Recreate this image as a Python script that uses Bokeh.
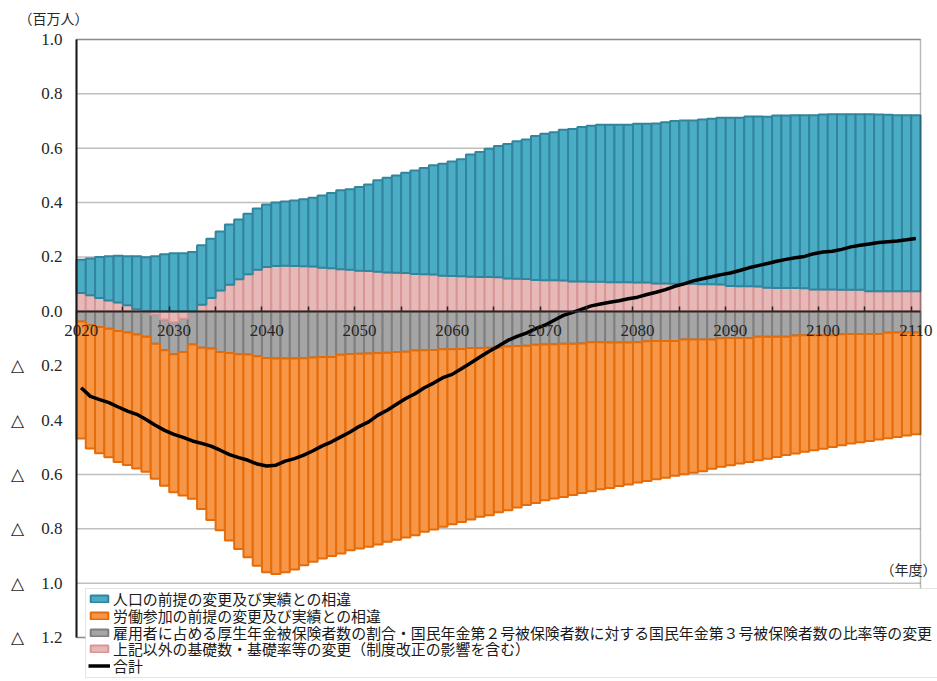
from bokeh.plotting import figure
from bokeh.models import (Range1d, LinearAxis, FixedTicker, Label, Legend,
                          LegendItem, ColumnDataSource, BoxAnnotation)
from bokeh.embed import file_html
from bokeh.resources import INLINE

years = list(range(2020, 2111))

# 人口の前提の変更及び実績との相違
population = [
    0.123, 0.135, 0.151, 0.163, 0.172, 0.181, 0.195, 0.199, 0.203, 0.210,
    0.214, 0.214, 0.218, 0.219, 0.218, 0.217, 0.221, 0.220, 0.223, 0.225,
    0.230, 0.233, 0.236, 0.241, 0.246, 0.253, 0.266, 0.277, 0.290, 0.296,
    0.308, 0.319, 0.336, 0.348, 0.358, 0.369, 0.381, 0.391, 0.402, 0.412,
    0.421, 0.430, 0.450, 0.460, 0.472, 0.483, 0.495, 0.506, 0.513, 0.530,
    0.539, 0.545, 0.555, 0.561, 0.568, 0.574, 0.577, 0.579, 0.579, 0.579,
    0.584, 0.584, 0.589, 0.594, 0.599, 0.601, 0.601, 0.606, 0.608, 0.613,
    0.619, 0.620, 0.625, 0.626, 0.629, 0.634, 0.634, 0.635, 0.636, 0.641,
    0.644, 0.645, 0.646, 0.646, 0.646, 0.651, 0.650, 0.649, 0.647, 0.647, 0.647,
]
# 労働参加の前提の変更及び実績との相違
labour = [
    -0.431, -0.454, -0.464, -0.473, -0.482, -0.487, -0.493, -0.496, -0.497, -0.499,
    -0.508, -0.528, -0.568, -0.593, -0.631, -0.655, -0.690, -0.716, -0.746, -0.771,
    -0.788, -0.792, -0.786, -0.776, -0.761, -0.751, -0.741, -0.732, -0.731, -0.722,
    -0.717, -0.711, -0.705, -0.696, -0.690, -0.683, -0.680, -0.668, -0.661, -0.653,
    -0.643, -0.636, -0.631, -0.621, -0.616, -0.606, -0.603, -0.594, -0.586, -0.582,
    -0.573, -0.568, -0.564, -0.557, -0.550, -0.548, -0.541, -0.535, -0.528, -0.522,
    -0.516, -0.514, -0.509, -0.503, -0.496, -0.495, -0.490, -0.484, -0.475, -0.473,
    -0.468, -0.462, -0.456, -0.454, -0.448, -0.442, -0.435, -0.434, -0.429, -0.423,
    -0.418, -0.411, -0.409, -0.403, -0.399, -0.394, -0.389, -0.388, -0.384, -0.379, -0.374,
]
# 雇用者に占める厚生年金被保険者数の割合・…の比率等の変更
employment = [
    -0.037, -0.051, -0.058, -0.064, -0.072, -0.078, -0.085, -0.090, -0.106, -0.113,
    -0.118, -0.123, -0.122, -0.134, -0.137, -0.150, -0.153, -0.158, -0.159, -0.165,
    -0.172, -0.174, -0.174, -0.174, -0.173, -0.170, -0.168, -0.168, -0.160, -0.157,
    -0.156, -0.155, -0.153, -0.152, -0.150, -0.149, -0.144, -0.143, -0.142, -0.140,
    -0.140, -0.139, -0.135, -0.135, -0.134, -0.133, -0.129, -0.128, -0.127, -0.123,
    -0.122, -0.121, -0.119, -0.119, -0.118, -0.114, -0.114, -0.115, -0.115, -0.115,
    -0.114, -0.110, -0.109, -0.109, -0.109, -0.104, -0.104, -0.104, -0.104, -0.099,
    -0.098, -0.098, -0.098, -0.094, -0.094, -0.094, -0.094, -0.089, -0.088, -0.088,
    -0.088, -0.088, -0.084, -0.083, -0.083, -0.083, -0.083, -0.079, -0.078, -0.078, -0.078,
]
# 上記以外の基礎数・基礎率等の変更（制度改正の影響を含む）
other = [
    0.067, 0.059, 0.049, 0.040, 0.032, 0.022, 0.008, -0.004, -0.013, -0.030,
    -0.040, -0.027, 0.000, 0.024, 0.049, 0.077, 0.098, 0.118, 0.136, 0.153,
    0.163, 0.167, 0.168, 0.167, 0.166, 0.165, 0.160, 0.158, 0.155, 0.153,
    0.149, 0.148, 0.146, 0.143, 0.142, 0.141, 0.137, 0.136, 0.135, 0.131,
    0.130, 0.129, 0.127, 0.126, 0.126, 0.125, 0.121, 0.120, 0.119, 0.115,
    0.114, 0.114, 0.113, 0.110, 0.110, 0.109, 0.109, 0.107, 0.107, 0.107,
    0.106, 0.106, 0.102, 0.102, 0.101, 0.101, 0.101, 0.100, 0.100, 0.099,
    0.093, 0.092, 0.092, 0.091, 0.087, 0.086, 0.086, 0.086, 0.085, 0.080,
    0.080, 0.080, 0.079, 0.079, 0.079, 0.074, 0.074, 0.074, 0.074, 0.074, 0.074,
]
# 合計
total = [
    -0.281, -0.313, -0.325, -0.336, -0.352, -0.367, -0.379, -0.398, -0.419, -0.438,
    -0.453, -0.464, -0.477, -0.486, -0.496, -0.511, -0.527, -0.538, -0.548, -0.562,
    -0.569, -0.566, -0.551, -0.542, -0.529, -0.513, -0.495, -0.480, -0.462, -0.444,
    -0.423, -0.407, -0.382, -0.364, -0.342, -0.321, -0.303, -0.281, -0.264, -0.244,
    -0.232, -0.211, -0.190, -0.168, -0.147, -0.128, -0.107, -0.092, -0.080, -0.064,
    -0.051, -0.033, -0.015, -0.004, 0.008, 0.020, 0.027, 0.033, 0.039, 0.046,
    0.052, 0.062, 0.070, 0.080, 0.092, 0.101, 0.112, 0.120, 0.127, 0.135,
    0.141, 0.150, 0.160, 0.168, 0.176, 0.184, 0.191, 0.197, 0.202, 0.212,
    0.218, 0.221, 0.228, 0.237, 0.243, 0.248, 0.253, 0.256, 0.259, 0.263, 0.268,
]

series_names = [
    "人口の前提の変更及び実績との相違",
    "労働参加の前提の変更及び実績との相違",
    "雇用者に占める厚生年金被保険者数の割合・国民年金第２号被保険者数に対する国民年金第３号被保険者数の比率等の変更",
    "上記以外の基礎数・基礎率等の変更（制度改正の影響を含む）",
    "合計",
]

y_ticks = [-1.2, -1.0, -0.8, -0.6, -0.4, -0.2, 0.0, 0.2, 0.4, 0.6, 0.8, 1.0]
y_tick_labels = ["△　1.2", "△　1.0", "△　0.8", "△　0.6", "△　0.4", "△　0.2",
                 "0.0", "0.2", "0.4", "0.6", "0.8", "1.0"]
x_label_years = [2020, 2030, 2040, 2050, 2060, 2070, 2080, 2090, 2100, 2110]
x_label_texts = [str(y) for y in x_label_years]
unit_text = "（百万人）"
year_text = "（年度）"

for arr in (population, labour, employment, other, total):
    if len(arr) != len(years):
        raise ValueError("length mismatch %d" % len(arr))

# stacking (positive: other then population; negative: other, employment, labour)
oth_top = [max(v, 0) for v in other]
oth_bot = [min(v, 0) for v in other]
pop_top = [a + b for a, b in zip(oth_top, population)]
emp_bot = [a + b for a, b in zip(oth_bot, employment)]
lab_bot = [a + b for a, b in zip(emp_bot, labour)]

src = ColumnDataSource(dict(
    year=years, oth_top=oth_top, oth_bot=oth_bot, pop_top=pop_top,
    emp_bot=emp_bot, lab_bot=lab_bot, total=total,
))

# ---- layout: the frame covers the whole canvas; the plot area sits inside
W, H = 937, 681
PX_L, PX_R, PX_T, PX_B = 76, 920, 39, 637
X0, X1 = years[0] - 0.5, years[-1] + 0.5
Y0, Y1 = y_ticks[0], y_ticks[-1]
xs = (X1 - X0) / (PX_R - PX_L)
ys = (Y1 - Y0) / (PX_B - PX_T)
x_start = X0 - PX_L * xs
y_end = Y1 + PX_T * ys

p = figure(width=W, height=H, output_backend="svg", toolbar_location=None,
           x_range=Range1d(x_start, x_start + W * xs),
           y_range=Range1d(y_end - H * ys, y_end),
           x_axis_location=None, y_axis_location=None, min_border=0)
p.title.visible = False
p.background_fill_color = "white"
p.border_fill_color = "white"
p.outline_line_color = None
p.xgrid.visible = False
p.ygrid.visible = False

TXT = "#262626"
SERIF = "Liberation Serif"

# horizontal grid lines, limited to the plot area
grid_vals = [t for t in y_ticks if t != 0.0]
p.segment(x0=[X0] * len(grid_vals), x1=[X1] * len(grid_vals), y0=grid_vals,
          y1=grid_vals, line_color="#BFBFBF", line_width=1.5, level="underlay")

r_emp = p.vbar(x="year", width=1.0, top="oth_bot", bottom="emp_bot", source=src,
               fill_color="#A5A5A5", line_color="#7F7F7F", line_width=2)
r_oth = p.vbar(x="year", width=1.0, top="oth_top", bottom="oth_bot", source=src,
               fill_color="#E6B9B8", line_color="#D99694", line_width=2)
r_pop = p.vbar(x="year", width=1.0, top="pop_top", bottom="oth_top", source=src,
               fill_color="#4BACC6", line_color="#31859C", line_width=2)
r_lab = p.vbar(x="year", width=1.0, top="emp_bot", bottom="lab_bot", source=src,
               fill_color="#F79646", line_color="#E46C0A", line_width=2)

r_tot = p.line(x="year", y="total", source=src, line_color="black",
               line_width=3.5, line_join="round")

# plot-area border
p.add_layout(BoxAnnotation(left=X0, right=X1, bottom=Y0, top=Y1,
                           fill_alpha=0, line_color="#1a1a1a", line_width=1.5))

# y axis at the left edge of the plot area
yaxis = LinearAxis(fixed_location=X0, bounds=(Y0, Y1),
                   ticker=FixedTicker(ticks=y_ticks),
                   major_label_overrides=dict(zip(y_ticks, y_tick_labels)),
                   major_tick_in=0, major_tick_out=0,
                   minor_tick_line_color=None,
                   axis_line_color="#1a1a1a", axis_line_width=2,
                   major_label_text_font=SERIF,
                   major_label_text_font_size="17px",
                   major_label_text_color=TXT,
                   major_label_standoff=14)
p.add_layout(yaxis, "left")

# x axis along the zero line: minor ticks at 5-year boundaries, labels every 10
x_minor = [y - 0.5 for y in years if y % 5 == 0 and y > years[0]]
xaxis = LinearAxis(fixed_location=0, bounds=(X0, X1),
                   ticker=FixedTicker(ticks=x_label_years, minor_ticks=x_minor),
                   major_label_overrides=dict(zip(x_label_years, x_label_texts)),
                   major_tick_in=0, major_tick_out=0,
                   minor_tick_in=5, minor_tick_out=0,
                   minor_tick_line_color="#262626", minor_tick_line_width=1.5,
                   axis_line_color="#262626", axis_line_width=2,
                   major_label_text_font=SERIF,
                   major_label_text_font_size="17px",
                   major_label_text_color=TXT,
                   major_label_standoff=14)
p.add_layout(xaxis, "below")

p.add_layout(Label(x=18, y=H - 17, x_units="screen", y_units="screen",
                   text=unit_text, text_font="Noto Sans CJK JP",
                   text_font_size="14px", text_baseline="middle",
                   text_color=TXT))
p.add_layout(Label(x=880, y=H - 568, x_units="screen", y_units="screen",
                   text=year_text, text_font="Noto Sans CJK JP",
                   text_font_size="14px", text_baseline="middle",
                   text_color=TXT))

# legend: one shared frame with one compact row per series
LEG_L, LEG_T, LEG_B = 85, 588, 677
ROW0, ROW_STEP, ROW_H = 598.5, 16.8, 22
p.add_layout(BoxAnnotation(left=LEG_L, right=W + 10, top=H - LEG_T, bottom=H - LEG_B,
                           left_units="screen", right_units="screen",
                           top_units="screen", bottom_units="screen",
                           fill_color="white", fill_alpha=1.0,
                           line_color="#A6A6A6", line_width=1))
for i, (name, rend) in enumerate(zip(series_names, [r_pop, r_lab, r_emp, r_oth, r_tot])):
    yc = ROW0 + ROW_STEP * i
    leg = Legend(items=[LegendItem(label=name, renderers=[rend])],
                 location=(LEG_L + 3, H - (yc + ROW_H / 2)))
    leg.label_text_font = "Noto Sans CJK JP"
    leg.label_text_font_size = "14.9px"
    leg.label_text_color = "#1a1a1a"
    leg.glyph_width = 22
    leg.glyph_height = 9
    leg.label_height = ROW_H
    leg.label_standoff = 3
    leg.spacing = 0
    leg.padding = 0
    leg.margin = 0
    leg.border_line_color = None
    leg.background_fill_alpha = 0.0
    p.add_layout(leg)

open("out.html", "w").write(file_html(p, INLINE))
